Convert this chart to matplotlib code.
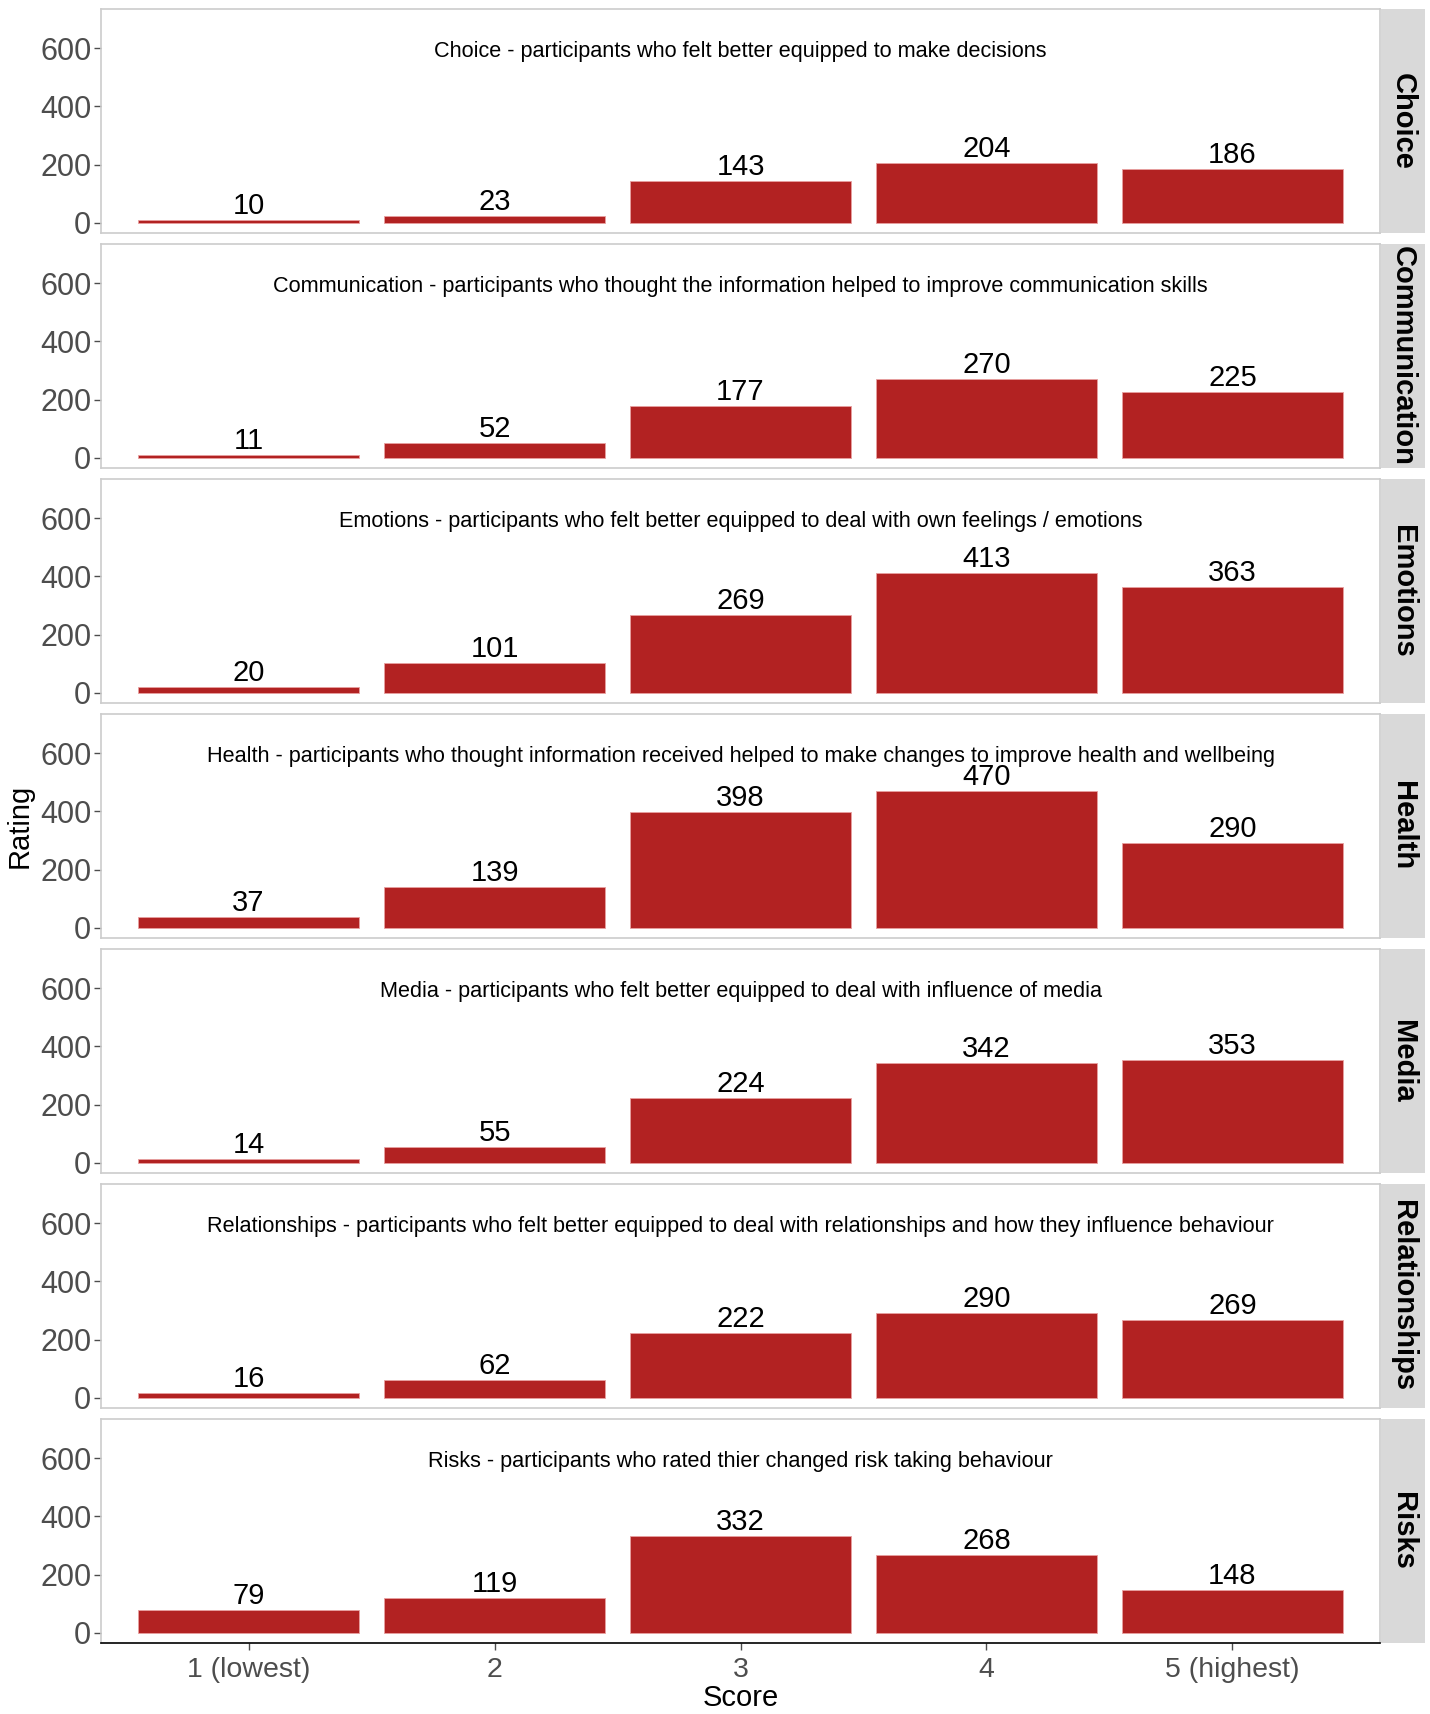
import matplotlib
matplotlib.use("Agg")
import matplotlib.pyplot as plt

plt.rcParams["font.family"] = ["Liberation Sans", "DejaVu Sans"]

# -----------------------------
# DATA
# -----------------------------
scores = ["1 (lowest)", "2", "3", "4", "5 (highest)"]
topics = ["Choice", "Communication", "Emotions", "Health", "Media", "Relationships", "Risks"]

choice = [10, 23, 143, 204, 186]
communication = [11, 52, 177, 270, 225]
emotions = [20, 101, 269, 413, 363]
health = [37, 139, 398, 470, 290]
media = [14, 55, 224, 342, 353]
relationships = [16, 62, 222, 290, 269]
risks = [79, 119, 332, 268, 148]
values = [choice, communication, emotions, health, media, relationships, risks]

subtitles = [
    "Choice - participants who felt better equipped to make decisions",
    "Communication - participants who thought the information helped to improve communication skills",
    "Emotions - participants who felt better equipped to deal with own feelings / emotions",
    "Health - participants who thought information received helped to make changes to improve health and wellbeing",
    "Media - participants who felt better equipped to deal with influence of media",
    "Relationships - participants who felt better equipped to deal with relationships and how they influence behaviour",
    "Risks - participants who rated thier changed risk taking behaviour",
]
yticks = [0, 200, 400, 600]

# -----------------------------
# LAYOUT (pixels)
# -----------------------------
W, H = 1430, 1714
fig = plt.figure(figsize=(W / 100, H / 100), dpi=100)

left, right = 101, 1380
strip_l, strip_r = 1381, 1425
top0, ph, pitch = 9, 224, 235

bar_color = "#B22222"
border = "#CCCCCC"
tick_col = "#4D4D4D"

x = list(range(1, len(scores) + 1))

for i, (topic, vals, sub) in enumerate(zip(topics, values, subtitles)):
    top = top0 + i * pitch
    ax = fig.add_axes([left / W, 1 - (top + ph) / H, (right - left) / W, ph / H])
    ax.bar(x, vals, width=0.9, color=bar_color, edgecolor="#E8A0A0", linewidth=0.6)
    ax.set_xlim(0.4, 5.6)
    ax.set_ylim(-35, 735)
    ax.set_yticks(yticks)
    ax.set_yticklabels([str(t) for t in yticks], fontsize=22, color=tick_col)
    ax.tick_params(axis="y", length=5, width=1, color=tick_col, pad=2)
    for s in ax.spines.values():
        s.set_color(border)
        s.set_linewidth(1.2)
    for xi, v in zip(x, vals):
        ax.annotate(str(v), (xi, v), xytext=(0, 0), textcoords="offset points",
                    ha="center", va="bottom", fontsize=21, color="black")
    ax.text(3, 588, sub, ha="center", va="center", fontsize=15.6, color="black")

    if i == len(topics) - 1:
        ax.set_xticks(x)
        ax.set_xticklabels(scores, fontsize=20.5, color=tick_col)
        ax.tick_params(axis="x", length=5, width=1, color=tick_col, pad=5)
        ax.spines["bottom"].set_color("black")
        ax.set_xlabel("Score", fontsize=21, labelpad=1)
    else:
        ax.set_xticks([])

    # facet strip
    sax = fig.add_axes([strip_l / W, 1 - (top + ph) / H, (strip_r - strip_l) / W, ph / H])
    sax.set_facecolor("#D9D9D9")
    sax.set_xticks([])
    sax.set_yticks([])
    for s in sax.spines.values():
        s.set_visible(False)
    sax.text(0.5, 0.5, topic, rotation=-90, ha="center", va="center",
             fontsize=21, fontweight="bold", transform=sax.transAxes)

mid = (top0 + top0 + 6 * pitch + ph) / 2
fig.text(20 / W, 1 - mid / H, "Rating", rotation=90, ha="center", va="center", fontsize=21)

fig.savefig("out.png", dpi=100)
